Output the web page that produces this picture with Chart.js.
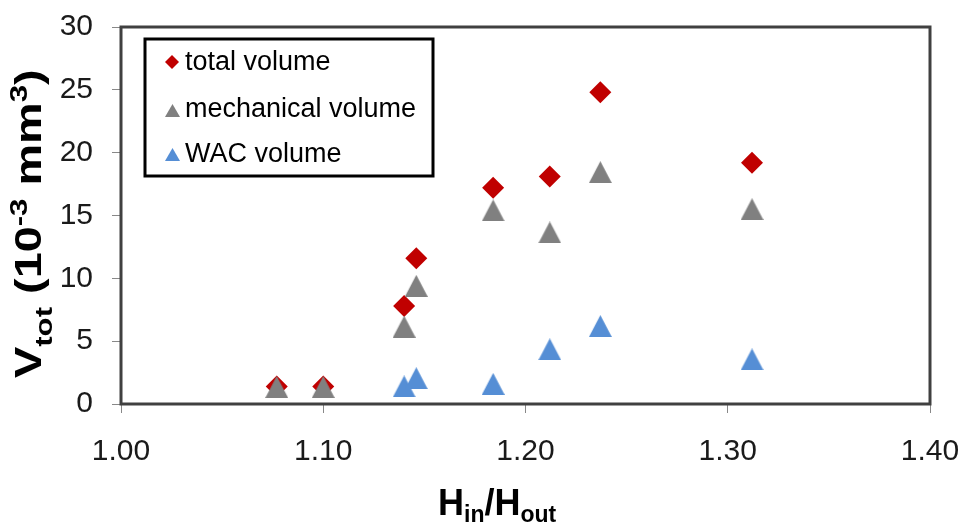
<!DOCTYPE html>
<html>
<head>
<meta charset="utf-8">
<script src="https://cdn.jsdelivr.net/npm/chart.js@4"></script>
<style>
    html, body { margin: 0; padding: 0; background: #fff; }
    #wrap { width: 965px; height: 522px; position: relative; }
</style>
</head>
<body>
<div id="wrap"><canvas id="chart" width="965" height="522"></canvas></div>
<script>
// Data
const ratio = [1.077, 1.100, 1.140, 1.146, 1.184, 1.212, 1.237, 1.312];
const totalVolume = [1.4, 1.4, 7.8, 11.6, 17.2, 18.1, 24.8, 19.2];
const mechanicalVolume = [1.35, 1.35, 6.15, 9.4, 15.4, 13.65, 18.45, 15.5];
const wacVolume = [null, null, 1.4, 2.05, 1.6, 4.35, 6.2, 3.55];
const xTicks = [1.0, 1.1, 1.2, 1.3, 1.4];
const yTicks = [0, 5, 10, 15, 20, 25, 30];

const RED = '#C00000';
const GRAY = '#808080';
const BLUE = '#558ED5';
const FONT = '"Liberation Sans", Arial, sans-serif';

// Excel style triangle marker (centred on its bounding box)
function triangleMarker(color, w, h) {
    const c = document.createElement('canvas');
    c.width = w;
    c.height = h;
    const g = c.getContext('2d');
    g.fillStyle = color;
    g.beginPath();
    g.moveTo(w / 2, 0);
    g.lineTo(w, h);
    g.lineTo(0, h);
    g.closePath();
    g.fill();
    return c;
}

function toPoints(values) {
    return ratio.map((x, i) => ({ x: x, y: values[i] }));
}

// Plot frame
const framePlugin = {
    id: 'frame',
    beforeDatasetsDraw(chart) {
        const a = chart.chartArea;
        const ctx = chart.ctx;
        ctx.save();
        ctx.strokeStyle = '#404040';
        ctx.lineWidth = 3;
        ctx.strokeRect(a.left, a.top, a.right - a.left, a.bottom - a.top);
        ctx.restore();
    }
};

// Draw text pieces with sub/superscripts
function drawRich(ctx, parts, x, y) {
    let cx = x;
    parts.forEach(p => {
        ctx.font = 'bold ' + p.size + 'px ' + FONT;
        ctx.fillText(p.text, cx, y + (p.dy || 0));
        cx += ctx.measureText(p.text).width;
    });
}

const titlesPlugin = {
    id: 'titles',
    afterDraw(chart) {
        const ctx = chart.ctx;
        ctx.save();
        ctx.fillStyle = '#000';
        ctx.textBaseline = 'alphabetic';
        ctx.textAlign = 'left';

        // x axis title
        drawRich(ctx, [
            { text: 'H', size: 36 },
            { text: 'in', size: 23, dy: 7 },
            { text: '/H', size: 36 },
            { text: 'out', size: 23, dy: 7 }
        ], 438, 515);

        // y axis title (stretched along its length like the original)
        ctx.translate(41, 378);
        ctx.rotate(-Math.PI / 2);
        ctx.scale(1.3, 1);
        drawRich(ctx, [
            { text: 'V', size: 36 },
            { text: 'tot', size: 24, dy: 11 },
            { text: ' (10', size: 36 },
            { text: '-3', size: 24, dy: -14 },
            { text: ' mm', size: 36 },
            { text: '3', size: 24, dy: -14 },
            { text: ')', size: 36 }
        ], 0, 0);
        ctx.restore();
    }
};

// Legend box inside the plot
const legendPlugin = {
    id: 'boxLegend',
    afterDraw(chart) {
        const ctx = chart.ctx;
        ctx.save();
        ctx.fillStyle = '#fff';
        ctx.fillRect(145, 39, 288, 137);
        ctx.strokeStyle = '#000';
        ctx.lineWidth = 3;
        ctx.strokeRect(145, 39, 288, 137);

        // diamond
        ctx.fillStyle = RED;
        ctx.beginPath();
        ctx.moveTo(172, 55);
        ctx.lineTo(179, 62);
        ctx.lineTo(172, 69);
        ctx.lineTo(165, 62);
        ctx.closePath();
        ctx.fill();

        ctx.drawImage(triangleMarker(GRAY, 15, 13), 165, 104);
        ctx.drawImage(triangleMarker(BLUE, 15, 13), 165, 148);

        ctx.fillStyle = '#000';
        ctx.font = '27px ' + FONT;
        ctx.textBaseline = 'alphabetic';
        ctx.fillText('total volume', 185, 70);
        ctx.fillText('mechanical volume', 185, 117);
        ctx.fillText('WAC volume', 185, 162);
        ctx.restore();
    }
};

const ctx = document.getElementById('chart').getContext('2d');
const chart = new Chart(ctx, {
    type: 'scatter',
    data: {
        datasets: [{
            label: 'total volume',
            data: toPoints(totalVolume),
            pointStyle: 'rectRot',
            pointRadius: 11,
            pointBackgroundColor: RED,
            pointBorderColor: RED,
            pointBorderWidth: 0,
            order: 3
        }, {
            label: 'mechanical volume',
            data: toPoints(mechanicalVolume),
            pointStyle: triangleMarker(GRAY, 23, 22),
            pointBackgroundColor: GRAY,
            pointBorderColor: GRAY,
            order: 2
        }, {
            label: 'WAC volume',
            data: toPoints(wacVolume),
            pointStyle: triangleMarker(BLUE, 23, 22),
            pointBackgroundColor: BLUE,
            pointBorderColor: BLUE,
            order: 1
        }]
    },
    options: {
        responsive: false,
        animation: false,
        layout: {
            padding: { top: 27, right: 35, left: 0, bottom: 0 }
        },
        plugins: {
            legend: { display: false },
            tooltip: { enabled: false }
        },
        scales: {
            x: {
                type: 'linear',
                min: xTicks[0],
                max: xTicks[xTicks.length - 1],
                afterBuildTicks: s => { s.ticks = xTicks.map(v => ({ value: v })); },
                afterFit: s => {
                    s.height = 118;
                    s.paddingLeft = 0;
                    s.paddingRight = 0;
                },
                border: { display: false },
                grid: {
                    drawOnChartArea: false,
                    drawTicks: true,
                    tickLength: 9,
                    color: '#888'
                },
                ticks: {
                    color: '#1a1a1a',
                    font: { family: FONT, size: 30 },
                    padding: 21,
                    maxRotation: 0,
                    callback: v => v.toFixed(2)
                }
            },
            y: {
                type: 'linear',
                min: yTicks[0],
                max: yTicks[yTicks.length - 1],
                afterBuildTicks: s => { s.ticks = yTicks.map(v => ({ value: v })); },
                afterFit: s => {
                    s.width = 121;
                    s.paddingTop = 0;
                    s.paddingBottom = 0;
                },
                border: { display: false },
                grid: {
                    drawOnChartArea: false,
                    drawTicks: true,
                    tickLength: 9,
                    color: '#888'
                },
                ticks: {
                    color: '#1a1a1a',
                    font: { family: FONT, size: 30 },
                    padding: 19
                }
            }
        }
    },
    plugins: [framePlugin, titlesPlugin, legendPlugin]
});
</script>
</body>
</html>
